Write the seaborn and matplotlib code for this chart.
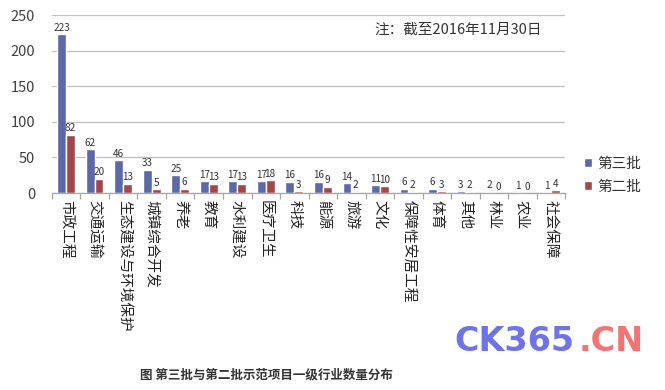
import matplotlib
matplotlib.use("Agg")
import matplotlib.pyplot as plt
import seaborn as sns
import pandas as pd
import numpy as np

categories = ["市政工程", "交通运输", "生态建设与环境保护", "城镇综合开发", "养老", "教育",
              "水利建设", "医疗卫生", "科技", "能源", "旅游", "文化", "保障性安居工程",
              "体育", "其他", "林业", "农业", "社会保障"]
batch3 = [223, 62, 46, 33, 25, 17, 17, 17, 16, 16, 14, 11, 6, 6, 3, 2, 1, 1]
batch2 = [82, 20, 13, 5, 6, 13, 13, 18, 3, 9, 2, 10, 2, 3, 2, 0, 0, 4]
series_names = ["第三批", "第二批"]
yticks = [0, 50, 100, 150, 200, 250]
note = "注：截至2016年11月30日"
caption = "图 第三批与第二批示范项目一级行业数量分布"

df = pd.DataFrame({
    "cat": categories * 2,
    "val": batch3 + batch2,
    "series": [series_names[0]] * len(categories) + [series_names[1]] * len(categories),
})

sns.set_theme(style="white")
plt.rcParams["font.family"] = ["Noto Sans CJK SC", "DejaVu Sans"]

fig = plt.figure(figsize=(6.65, 3.9), dpi=100)
ax = fig.add_axes([0.078, 0.505, 0.772, 0.456])

colors = ["#5D68A6", "#A3464A"]
sns.barplot(data=df, x="cat", y="val", hue="series", palette=colors,
            width=0.62, dodge=True, ax=ax, legend=True, saturation=1)

for c in ax.containers:
    ax.bar_label(c, fontsize=7.2, color="#333333", padding=1)

ax.set_ylim(0, 250)
ax.set_yticks(yticks)
ax.tick_params(axis="y", labelsize=10.5, colors="#404040", length=0, pad=12)
ax.yaxis.grid(True, color="#BFBFBF", linewidth=0.9)
ax.set_axisbelow(True)
ax.set_xlim(-0.5, len(categories) - 0.5)
ax.set_xlabel("")
ax.set_ylabel("")
for s in ["top", "right", "left"]:
    ax.spines[s].set_visible(False)
ax.spines["bottom"].set_color("#A6A6A6")
ax.spines["bottom"].set_linewidth(0.9)

ax.set_xticks(range(len(categories)))
ax.set_xticklabels(categories, rotation=-90, ha="center", va="top", fontsize=10.5,
                   color="#222222")
ax.tick_params(axis="x", which="major", length=0, pad=5)
ax.set_xticks(np.arange(-0.5, len(categories), 1), minor=True)
ax.tick_params(axis="x", which="minor", length=4, color="#A6A6A6", width=0.9,
               direction="out", bottom=True)

leg = ax.legend(loc="center left", bbox_to_anchor=(1.01, 0.1), frameon=False,
                fontsize=10.5, handlelength=0.6, handleheight=0.6,
                handletextpad=0.35, labelspacing=0.6)
for t in leg.get_texts():
    t.set_color("#333333")

fig.text(0.563, 0.925, note, fontsize=10.5, color="#333333", ha="left", va="center")
fig.text(0.40, 0.038, caption, fontsize=9, fontweight="bold", color="#333333",
         ha="center", va="center")
fig.text(0.684, 0.125, "CK365", fontsize=24, fontweight="bold", color="#6F73E8",
         ha="left", va="center", family="DejaVu Sans")
fig.text(0.87, 0.125, ".CN", fontsize=24, fontweight="bold", color="#F27474",
         ha="left", va="center", family="DejaVu Sans")

fig.savefig("out.png", dpi=100)
